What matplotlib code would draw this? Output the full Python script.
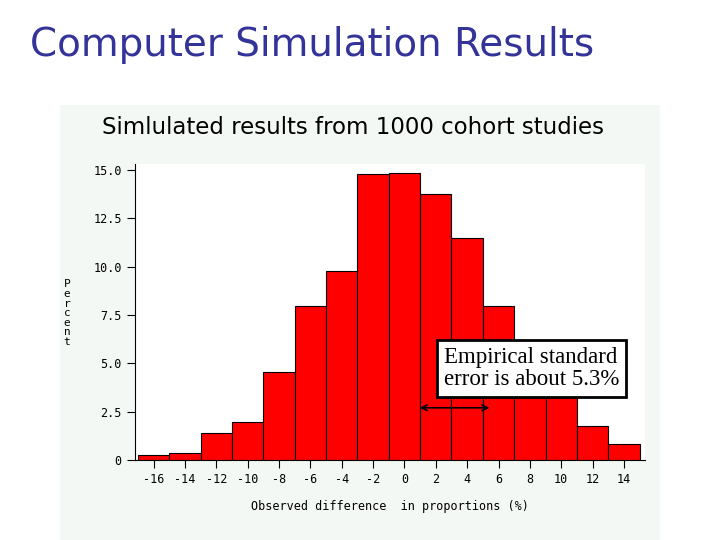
import matplotlib.pyplot as plt

# bar midpoints and percent heights
midpoints = [-16, -14, -12, -10, -8, -6, -4, -2, 0, 2, 4, 6, 8, 10, 12, 14]
percent = [0.25, 0.35, 1.4, 1.95, 4.55, 7.95, 9.8, 14.8, 14.85, 13.75, 11.5, 7.95, 5.5, 3.5, 1.75, 0.85]
yticks = [0, 2.5, 5.0, 7.5, 10.0, 12.5, 15.0]
ylabels = ['0', '2.5', '5.0', '7.5', '10.0', '12.5', '15.0']

fig = plt.figure(figsize=(7.2, 5.4), dpi=100)
fig.text(0.042, 0.917, 'Computer Simulation Results', fontsize=28, color='#333399', va='center')

# light panel behind the chart
panel = fig.add_axes([60/720, 0, 600/720, 1 - 105/540], zorder=0)
panel.axis('off')
panel.add_patch(plt.Rectangle((0, 0), 1, 1, transform=panel.transAxes, facecolor='#f4f8f4', edgecolor='none'))
fig.text(0.49, 0.763, 'Simlulated results from 1000 cohort studies', fontsize=16.5, ha='center', va='center')

h = 290 * 15.3 / 15
ax = fig.add_axes([135/720, 80/540, 510/720, h/540], zorder=1)
ax.set_facecolor('white')
ax.bar(midpoints, percent, width=2, color='#ff0000', edgecolor='black', linewidth=0.8)
ax.set_xlim(-17.2, 15.35)
ax.set_ylim(0, 15.3)
ax.set_xticks(midpoints)
ax.set_xticklabels([str(m) for m in midpoints], family='DejaVu Sans Mono', fontsize=8.5)
ax.set_yticks(yticks)
ax.set_yticklabels(ylabels, family='DejaVu Sans Mono', fontsize=8.5)
ax.tick_params(length=6)
for s in ['top', 'right']:
    ax.spines[s].set_visible(False)
ax.set_xlabel('Observed difference  in proportions (%)', family='DejaVu Sans Mono',
              fontsize=8.5, labelpad=10)
fig.text(0.093, 0.42, '\n'.join('Percent'), family='DejaVu Sans Mono', fontsize=8,
         va='center', ha='center', linespacing=0.95)

ax.text(0.605, 0.31, 'Empirical standard\nerror is about 5.3%', transform=ax.transAxes,
        family='Liberation Serif', fontsize=16.5, va='center', linespacing=1.1,
        bbox=dict(facecolor='white', edgecolor='black', linewidth=2, pad=5))
ax.annotate('', xy=(0.8, 2.7), xytext=(5.6, 2.7),
            arrowprops=dict(arrowstyle='<->', color='black', lw=1.2))

fig.savefig('out.png', dpi=100)
